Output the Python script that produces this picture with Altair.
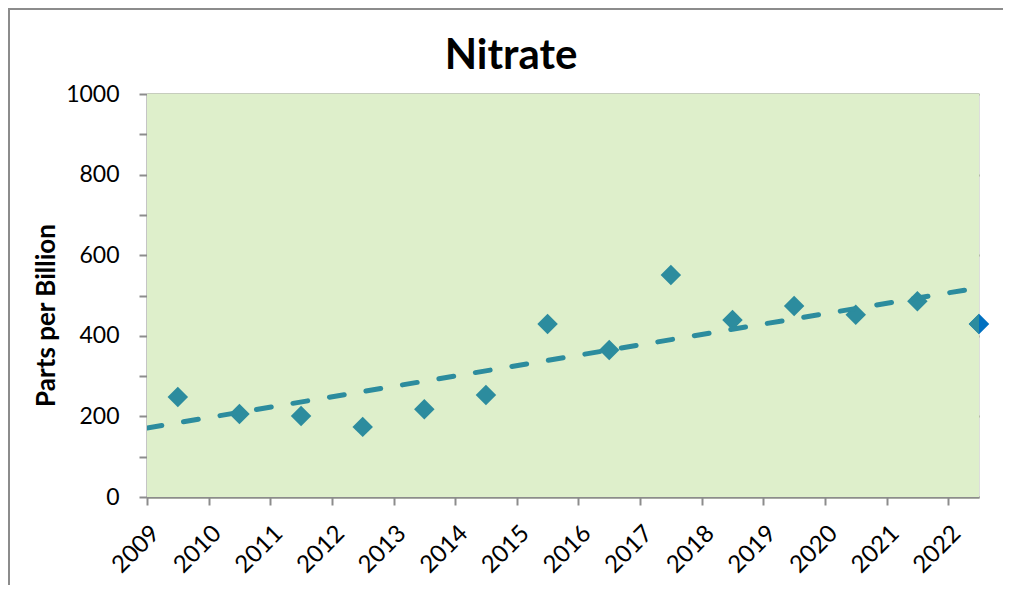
import altair as alt
import pandas as pd

# ---- data ----
years = list(range(2009, 2023))
nitrate_ppb = [248, 206, 201, 174, 218, 253, 429, 365, 551, 439, 474, 452, 486, 429]
x_tick_values = list(range(2009, 2023))
y_tick_values = list(range(0, 1001, 50))
latest_year = 2022
chart_title = "Nitrate"

df = pd.DataFrame({"year": years, "ppb": nitrate_ppb})

TEAL = "#2C8C9E"
BLUE = "#0070C0"
FONT = "Lato"
AXIS_GREY = "#8C8C8C"
PLOT_BG = "#DEEFCB"

base = alt.Chart(df).transform_calculate(xpos="datum.year + 0.5")

x_scale = alt.Scale(domain=[2009, 2022.5], nice=False, zero=False)
y_scale = alt.Scale(domain=[0, 1000], nice=False)

x_axis = alt.Axis(
    values=x_tick_values, format="d", labelAngle=-45, labelAlign="right",
    labelBaseline="top", labelPadding=16, labelFont=FONT, labelFontSize=24,
    labelColor="black", tickSize=8, tickColor=AXIS_GREY, tickWidth=2,
    domainColor=AXIS_GREY, domainWidth=2, grid=False, title=None,
    labelOverlap=False, labelFlush=False,
)
y_axis = alt.Axis(
    values=y_tick_values, format="d",
    labelExpr="datum.value % 200 === 0 ? datum.label : ''",
    labelFont=FONT, labelFontSize=23, labelColor="black", labelPadding=20,
    tickSize=8, tickColor=AXIS_GREY, tickWidth=2,
    domainColor=AXIS_GREY, domainWidth=2,
    grid=True, gridColor="#8E9C7C", gridWidth=2,
    gridOpacity={"condition": {"test": "datum.value % 200 === 0", "value": 1}, "value": 0},
    title="Parts per Billion", titleFont=FONT, titleFontSize=26, titleFontWeight="bold",
    titleColor="black", titleAngle=270, titleAlign="center", titleBaseline="middle",
    titleX=-101, titleY=221, labelOverlap=False,
)

one_row = alt.Data(values=[{"title": chart_title}])

plot_bg = alt.Chart(one_row).mark_rect(
    fill=PLOT_BG, strokeWidth=0
).encode(
    x=alt.value(0), x2=alt.value(832), y=alt.value(0), y2=alt.value(403)
)

border_top = alt.Chart(one_row).mark_rule(
    color=AXIS_GREY, strokeWidth=2, clip=False
).encode(
    x=alt.value(-138), x2=alt.value(880), y=alt.value(-85), y2=alt.value(-85)
)
border_left = alt.Chart(one_row).mark_rule(
    color=AXIS_GREY, strokeWidth=2, clip=False
).encode(
    x=alt.value(-138), x2=alt.value(-138), y=alt.value(-86), y2=alt.value(540)
)

title_text = alt.Chart(one_row).mark_text(
    font=FONT, fontSize=42, fontWeight="bold", color="black",
    align="center", baseline="alphabetic", clip=False
).encode(
    text="title:N", x=alt.value(364), y=alt.value(-25)
)

latest = base.transform_filter(alt.datum.year == latest_year).mark_point(
    shape="diamond", filled=True, size=420, color=BLUE, opacity=1, clip=False
).encode(
    x=alt.X("xpos:Q", scale=x_scale, axis=x_axis),
    y=alt.Y("ppb:Q", scale=y_scale, axis=y_axis),
)

points = base.mark_point(
    shape="diamond", filled=True, size=420, color=TEAL, opacity=1, clip=True
).encode(x="xpos:Q", y="ppb:Q")

trend = base.transform_regression(
    "xpos", "ppb", extent=[2009, 2022.5]
).mark_line(
    color=TEAL, strokeWidth=5, strokeDash=[15, 22], strokeCap="round", clip=True
).encode(x="xpos:Q", y="ppb:Q")

chart = alt.layer(plot_bg, border_top, border_left, title_text, latest, points, trend).properties(
    width=832, height=403,
    padding={"left": 139, "top": 86, "right": 24, "bottom": 88},
    autosize=alt.AutoSizeParams(type="none"),
).configure_view(strokeWidth=0).configure(background="white")

chart.save("out.html", embed_options={"renderer": "svg", "actions": False})
